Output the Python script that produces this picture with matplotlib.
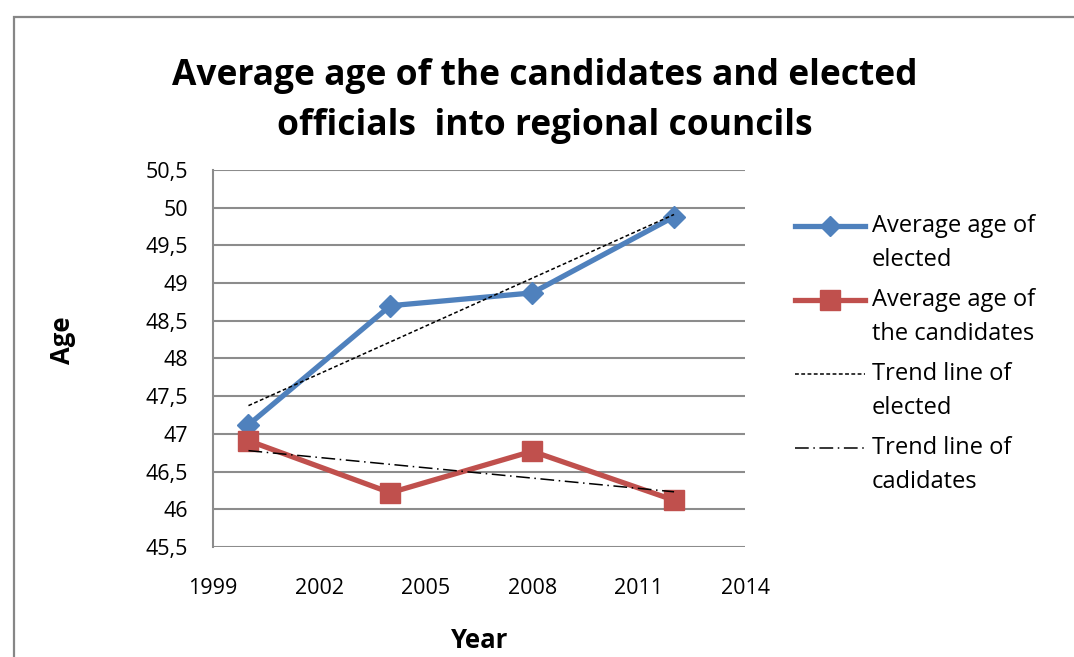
import numpy as np
import matplotlib.pyplot as plt
from matplotlib.lines import Line2D
from matplotlib.patches import Rectangle
from matplotlib.ticker import FuncFormatter

plt.rcParams['font.family'] = ['Open Sans', 'DejaVu Sans']

years = [2000, 2004, 2008, 2012]
elected = [47.12, 48.70, 48.87, 49.88]
candidates = [46.91, 46.22, 46.77, 46.12]
legend_labels = ['Average age of\nelected', 'Average age of\nthe candidates',
                 'Trend line of\nelected', 'Trend line of\ncadidates']

blue = '#4F81BD'
red = '#C0504D'
grid = '#8C8C8C'
W, H = 1074, 657

fig = plt.figure(figsize=(W / 100, H / 100), dpi=100)

# chart border (runs off the right and bottom edges)
fig.patches.append(Rectangle((14 / W, -0.1), 1.2, 1 - 17 / H + 0.1,
                             transform=fig.transFigure, fill=False,
                             edgecolor='#868686', linewidth=1.6))

ax = fig.add_axes([213 / W, 1 - 547 / H, 532 / W, 377 / H])

styles = [dict(color=blue, lw=3.8, marker='D', ms=11),
          dict(color=red, lw=3.8, marker='s', ms=15),
          dict(color='black', lw=1.1, linestyle=(0, (2.5, 1.6))),
          dict(color='black', lw=1.1, linestyle=(0, (9, 3, 1, 3)))]

ax.plot(years, elected, zorder=4, **styles[0])
ax.plot(years, candidates, zorder=4, **styles[1])

# linear trend lines
x = np.array(years, dtype=float)
for series, st in [(elected, styles[2]), (candidates, styles[3])]:
    k, b = np.polyfit(x, series, 1)
    ax.plot(x, k * x + b, zorder=5, **st)

ax.set_xlim(1999, 2014)
ax.set_ylim(45.5, 50.5)
ax.set_xticks([1999, 2002, 2005, 2008, 2011, 2014])
ax.set_yticks(np.arange(45.5, 50.51, 0.5))
ax.yaxis.set_major_formatter(FuncFormatter(
    lambda v, p: ('%g' % v).replace('.', ',')))
ax.tick_params(length=0, labelsize=15.5)
ax.tick_params(axis='y', pad=18)
ax.tick_params(axis='x', pad=22)
ax.grid(axis='y', color=grid, lw=1.5)
ax.set_axisbelow(True)
for s in ['top', 'right', 'bottom']:
    ax.spines[s].set_visible(False)
ax.spines['left'].set_color(grid)
ax.spines['left'].set_linewidth(1.5)

fig.text(62 / W, 1 - 340 / H, 'Age', rotation=90, fontsize=18.5,
         fontweight='bold', ha='center', va='center')
fig.text(480 / W, 1 - 641 / H, 'Year', fontsize=18.5,
         fontweight='bold', ha='center', va='center')

fig.text(545 / W, 1 - 101 / H,
         'Average age of the candidates and elected\nofficials  into regional councils',
         fontsize=25.5, fontweight='bold', ha='center', va='center',
         linespacing=1.55)

# legend: handle sits level with the first line of each label
for i, (lab, st) in enumerate(zip(legend_labels, styles)):
    yc = 1 - (226 + 74 * i) / H
    line_st = {k: v for k, v in st.items() if k not in ('marker', 'ms')}
    fig.add_artist(Line2D([795 / W, 865 / W], [yc, yc],
                          transform=fig.transFigure, **line_st))
    if 'marker' in st:
        fig.add_artist(Line2D([830 / W], [yc], transform=fig.transFigure,
                              color=st['color'], marker=st['marker'],
                              ms=st['ms'] * 0.95, linestyle='none'))
    fig.text(872 / W, yc + 12 / H, lab, fontsize=17, ha='left', va='top',
             linespacing=1.53)

fig.savefig('out.png', dpi=100)
